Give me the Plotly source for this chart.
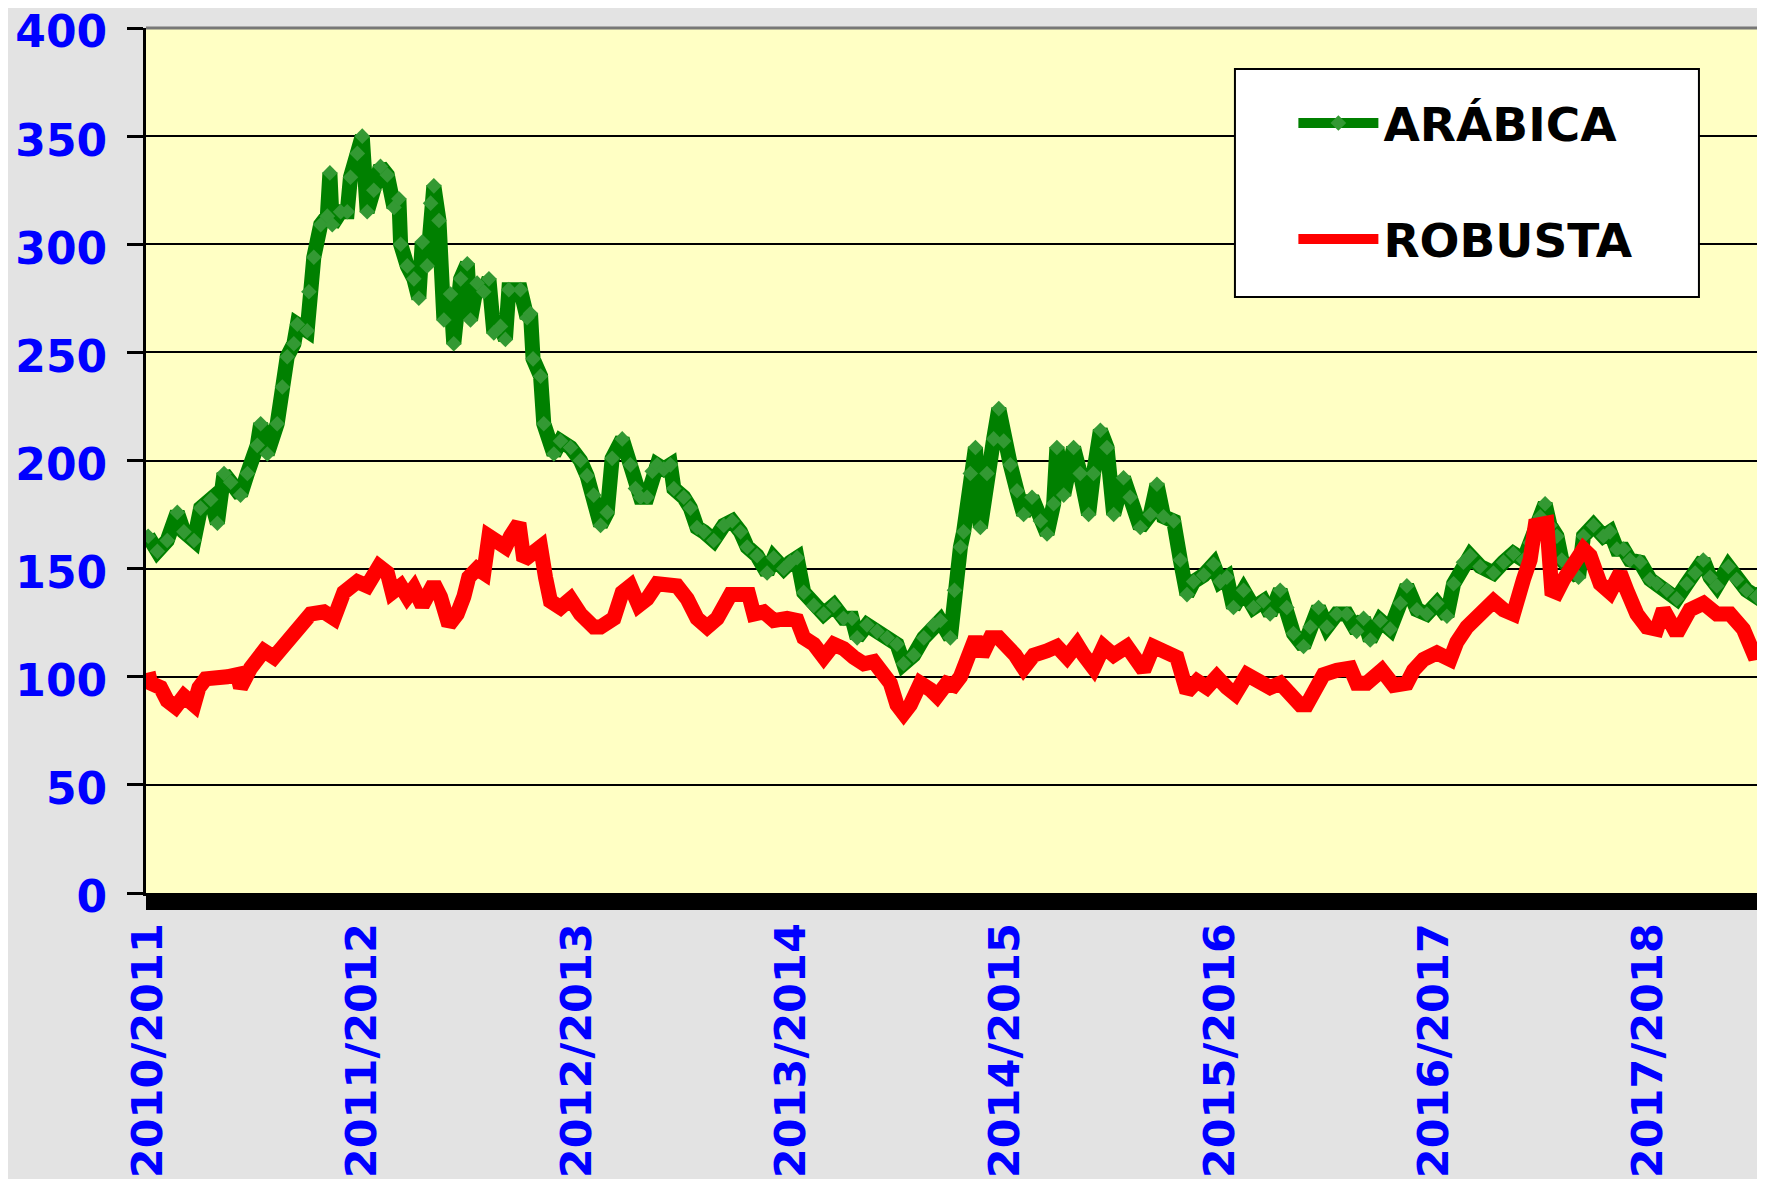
import plotly.graph_objects as go

# x = years since start of 2010/2011 season (1 Oct 2010)
arabica_t = [0, 0.043, 0.089, 0.136, 0.167, 0.214, 0.245, 0.292, 0.323, 0.354, 0.385, 0.431, 0.463, 0.509, 0.525,
             0.556, 0.602, 0.626, 0.649, 0.680, 0.696, 0.742, 0.750, 0.773, 0.805, 0.836, 0.848, 0.859, 0.898, 0.929,
             0.944, 0.976, 0.999, 1.022, 1.053, 1.084, 1.116, 1.147, 1.170, 1.178, 1.209, 1.240, 1.263, 1.279, 1.302,
             1.318, 1.333, 1.357, 1.380, 1.411, 1.426, 1.458, 1.489, 1.504, 1.535, 1.566, 1.590, 1.613, 1.644, 1.667,
             1.683, 1.737, 1.768, 1.784, 1.796, 1.831, 1.846, 1.893, 1.924, 1.971, 2.017, 2.048, 2.079, 2.111, 2.142,
             2.165, 2.212, 2.250, 2.274, 2.297, 2.328, 2.352, 2.375, 2.406, 2.437, 2.453, 2.499, 2.530, 2.561, 2.593,
             2.639, 2.686, 2.725, 2.764, 2.795, 2.841, 2.888, 2.919, 2.966, 2.997, 3.028, 3.059, 3.106, 3.152, 3.199,
             3.245, 3.284, 3.308, 3.354, 3.401, 3.448, 3.494, 3.525, 3.572, 3.619, 3.665, 3.696, 3.743, 3.762, 3.790,
             3.805, 3.836, 3.860, 3.883, 3.914, 3.945, 3.969, 3.992, 4.023, 4.054, 4.085, 4.124, 4.163, 4.194, 4.225,
             4.240, 4.272, 4.318, 4.349, 4.388, 4.411, 4.443, 4.474, 4.505, 4.551, 4.582, 4.629, 4.676, 4.707, 4.738,
             4.785, 4.816, 4.847, 4.878, 4.925, 4.971, 5.002, 5.033, 5.064, 5.111, 5.158, 5.204, 5.235, 5.282, 5.313,
             5.344, 5.391, 5.422, 5.461, 5.500, 5.546, 5.593, 5.639, 5.671, 5.702, 5.749, 5.795, 5.842, 5.873, 5.920,
             5.966, 6.013, 6.060, 6.091, 6.137, 6.168, 6.215, 6.277, 6.324, 6.370, 6.417, 6.448, 6.495, 6.518, 6.541,
             6.573, 6.596, 6.635, 6.674, 6.697, 6.744, 6.790, 6.821, 6.853, 6.884, 6.914, 6.961, 7.008, 7.039, 7.086,
             7.132, 7.179, 7.218, 7.256, 7.288, 7.319, 7.373, 7.412, 7.458, 7.505, 7.544]
arabica = [165, 158, 163, 176, 167, 163, 178, 182, 171, 194, 190, 184, 194, 207, 217,
           203, 217, 234, 248, 254, 263, 260, 278, 294, 309, 313, 333, 309, 315, 315,
           331, 342, 350, 315, 325, 336, 332, 317, 321, 300, 290, 284, 275, 301, 290,
           319, 327, 311, 265, 277, 254, 284, 291, 265, 282, 278, 284, 259, 262, 256,
           279, 279, 266, 268, 247, 239, 217, 203, 209, 206, 200, 193, 184, 170, 176,
           201, 210, 198, 187, 183, 183, 195, 198, 196, 198, 187, 183, 178, 169, 167,
           163, 170, 172, 167, 160, 156, 148, 155, 150, 153, 155, 139, 133, 129, 133,
           127, 127, 118, 124, 121, 118, 115, 106, 110, 118, 124, 126, 118, 140, 160,
           167, 194, 206, 169, 194, 210, 224, 209, 198, 186, 175, 183, 172, 166, 180,
           206, 184, 206, 194, 175, 194, 214, 206, 175, 192, 183, 169, 175, 189, 174,
           172, 154, 138, 144, 147, 152, 144, 146, 132, 140, 132, 135, 129, 140, 132,
           120, 114, 123, 132, 123, 129, 129, 121, 127, 117, 126, 122, 134, 142, 131,
           129, 134, 128, 143, 153, 156, 151, 148, 153, 157, 154, 162, 174, 180, 170,
           165, 154, 151, 146, 165, 170, 165, 167, 159, 159, 154, 153, 145, 143, 140,
           136, 143, 148, 154, 146, 142, 151, 145, 140, 137, 140]

robusta_t = [0, 0.012, 0.058, 0.089, 0.128, 0.167, 0.214, 0.237, 0.268, 0.323, 0.369, 0.416, 0.431, 0.478, 0.540,
             0.587, 0.634, 0.696, 0.758, 0.820, 0.867, 0.913, 0.976, 1.022, 1.077, 1.116, 1.139, 1.178, 1.209, 1.240,
             1.279, 1.333, 1.364, 1.403, 1.442, 1.473, 1.496, 1.535, 1.566, 1.590, 1.629, 1.667, 1.691, 1.730, 1.753,
             1.792, 1.831, 1.854, 1.877, 1.924, 1.971, 2.017, 2.079, 2.111, 2.173, 2.212, 2.250, 2.289, 2.328, 2.375,
             2.421, 2.468, 2.515, 2.561, 2.608, 2.655, 2.717, 2.764, 2.802, 2.826, 2.872, 2.919, 2.981, 3.028, 3.059,
             3.106, 3.152, 3.199, 3.245, 3.292, 3.339, 3.386, 3.432, 3.463, 3.494, 3.525, 3.556, 3.603, 3.650, 3.681,
             3.727, 3.759, 3.790, 3.821, 3.860, 3.891, 3.930, 3.969, 4.007, 4.046, 4.085, 4.132, 4.194, 4.240, 4.287,
             4.334, 4.365, 4.411, 4.458, 4.505, 4.567, 4.613, 4.645, 4.691, 4.738, 4.800, 4.847, 4.894, 4.940, 4.986,
             5.033, 5.072, 5.127, 5.189, 5.235, 5.282, 5.329, 5.375, 5.406, 5.438, 5.484, 5.546, 5.609, 5.639, 5.686,
             5.756, 5.811, 5.873, 5.904, 5.951, 6.013, 6.075, 6.106, 6.153, 6.215, 6.277, 6.324, 6.370, 6.417, 6.448,
             6.472, 6.526, 6.549, 6.573, 6.604, 6.650, 6.697, 6.728, 6.775, 6.821, 6.868, 6.899, 6.946, 6.992, 7.039,
             7.070, 7.132, 7.194, 7.257, 7.319, 7.381, 7.443, 7.490, 7.544]
robusta = [102, 97, 95, 89, 86, 91, 87, 95, 99, 99, 100, 101, 95, 104, 112,
           109, 114, 123, 129, 130, 127, 139, 144, 142, 151, 148, 139, 142, 137, 141,
           133, 143, 137, 124, 129, 137, 146, 150, 148, 165, 163, 160, 165, 171, 154,
           158, 160, 146, 135, 132, 136, 129, 123, 123, 127, 139, 142, 133, 136, 143,
           143, 142, 136, 127, 123, 127, 138, 138, 138, 129, 130, 126, 127, 126, 118,
           115, 109, 115, 113, 109, 106, 107, 102, 97, 87, 83, 87, 97, 94, 91,
           97, 96, 100, 108, 118, 110, 118, 118, 115, 110, 104, 110, 112, 114, 109,
           115, 110, 104, 114, 110, 114, 106, 103, 114, 112, 109, 93, 98, 95, 100,
           95, 92, 101, 98, 95, 97, 92, 87, 87, 93, 101, 103, 104, 97, 97,
           103, 96, 97, 103, 108, 111, 108, 116, 123, 128, 135, 131, 129, 145, 154,
           170, 171, 140, 139, 145, 151, 159, 156, 143, 139, 148, 140, 129, 123, 122,
           131, 120, 131, 134, 129, 129, 122, 111, 112]

season_ticks = [0, 1, 2, 3, 4, 5, 6, 7]
season_labels = ["2010/2011", "2011/2012", "2012/2013", "2013/2014",
                 "2014/2015", "2015/2016", "2016/2017", "2017/2018"]
y_ticks = [0, 50, 100, 150, 200, 250, 300, 350, 400]

FONT = "DejaVu Sans"
BLUE = "#0000ff"

fig = go.Figure()
fig.add_trace(go.Scatter(
    x=arabica_t, y=arabica, name="<b>ARÁBICA</b>", mode="lines+markers",
    line=dict(color="#008000", width=15),
    marker=dict(symbol="diamond", size=12, color="#339933"),
    legendgroup="a",
))
fig.add_trace(go.Scatter(
    x=robusta_t, y=robusta, name="<b>ROBUSTA</b>", mode="lines",
    line=dict(color="#ff0000", width=15),
    legendgroup="r",
))

# plot-area top border
fig.add_shape(type="line", xref="paper", yref="paper", x0=0, x1=1, y0=1, y1=1,
              line=dict(color="#777777", width=3), layer="above")
# legend frame
fig.add_shape(type="rect", xref="paper", yref="paper",
              x0=0.6726, x1=0.9592, y0=0.689, y1=0.9526,
              fillcolor="white", line=dict(color="black", width=2), layer="above")

fig.update_layout(
    template="none",
    width=1765, height=1179, autosize=False,
    margin=dict(l=138, r=8, t=20, b=294, pad=0),
    paper_bgcolor="#e3e3e3",
    plot_bgcolor="#ffffc4",
    font=dict(family=FONT, color="black"),
    showlegend=True,
    legend=dict(
        x=0.7087, y=0.933, xanchor="left", yanchor="top",
        bgcolor="rgba(0,0,0,0)", borderwidth=0,
        font=dict(family=FONT, size=47, color="black"),
        itemwidth=80, tracegroupgap=52,
    ),
    xaxis=dict(
        range=[-0.01, 7.544], tickmode="array", tickvals=season_ticks, ticktext=season_labels,
        tickangle=-90, tickfont=dict(family=FONT, size=43, color=BLUE, weight="bold"),
        ticklabelstandoff=-4, ticklabeloverflow="allow",
        showgrid=False, zeroline=False, automargin=False,
        showline=True, linecolor="black", linewidth=3,
        ticks="outside", ticklen=14, tickwidth=4, tickcolor="black",
        minor=dict(dtick=0.015, ticks="outside", ticklen=14, tickwidth=4, tickcolor="black", showgrid=False),
    ),
    yaxis=dict(
        range=[0, 400], tickmode="array", tickvals=y_ticks,
        tickfont=dict(family=FONT, size=44, color=BLUE, weight="bold"),
        ticklabelstandoff=11, ticklabelshift=4, ticklabeloverflow="allow",
        showgrid=True, gridcolor="black", gridwidth=2, zeroline=False, automargin=False,
        showline=True, linecolor="black", linewidth=3,
        ticks="outside", ticklen=16, tickwidth=3, tickcolor="black",
    ),
)

fig.write_html("out.html")
